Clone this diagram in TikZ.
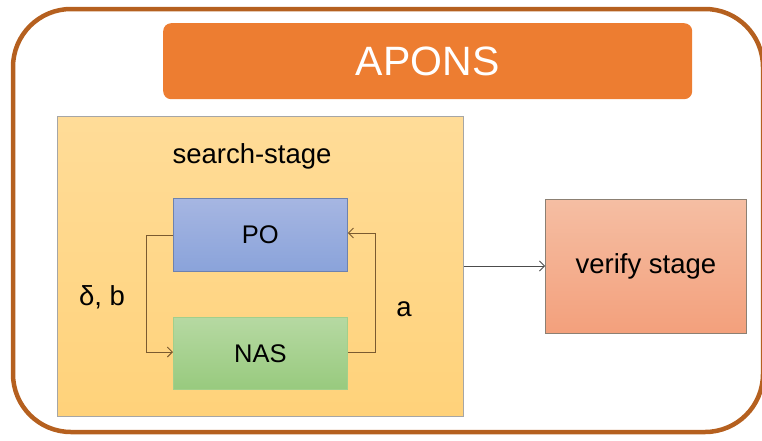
\documentclass[tikz,border=0pt]{standalone}
\usepackage{fontspec}
\setmainfont{Liberation Sans}
\usetikzlibrary{arrows.meta}
\definecolor{frame}{HTML}{B5601F}
\definecolor{titlebg}{HTML}{ED7D31}
\definecolor{searchtop}{HTML}{FFDC98}
\definecolor{searchbot}{HTML}{FFD27A}
\definecolor{potop}{HTML}{A6B6E2}
\definecolor{pobot}{HTML}{8AA3DA}
\definecolor{nastop}{HTML}{B6D9A2}
\definecolor{nasbot}{HTML}{98CA7E}
\definecolor{vertop}{HTML}{F5BEA3}
\definecolor{verbot}{HTML}{F3A07C}
\definecolor{link}{HTML}{7A5A30}
\tikzset{
  box/.style={draw=#1, line width=0.8pt, inner sep=0pt, anchor=north west},
  lbl/.style={font=\fontsize{25.5}{28}\selectfont, text=black},
  biglbl/.style={font=\fontsize{27.5}{30}\selectfont, text=black},
  loop/.style={draw=link, line width=0.9pt, -{Straight Barb[length=5pt,width=10pt]}},
}
\begin{document}
\begin{tikzpicture}[x=1pt,y=-1pt]
  \useasboundingbox (0,0) rectangle (762,440);
  % outer frame
  \draw[frame, line width=4.5pt, rounded corners=58pt] (13,9) rectangle (763,432);
  % title bar
  \node[fill=titlebg, rounded corners=8pt, anchor=north west, minimum width=529pt, minimum height=76pt, inner sep=0pt,
        text=white, font=\fontsize{41}{44}\selectfont] (title) at (163,23) {APONS};
  % search stage
  \node[box=gray!70, top color=searchtop, bottom color=searchbot, minimum width=406pt, minimum height=300pt] (search) at (57,116) {};
  \node[biglbl] (searchlbl) at (252,156) {search-stage};
  % PO and NAS
  \node[box=pobot!80!black, top color=potop, bottom color=pobot, minimum width=174pt, minimum height=73pt, lbl] (po) at (173,198) {PO};
  \node[box=nasbot!90!white, top color=nastop, bottom color=nasbot, minimum width=174pt, minimum height=72pt, lbl] (nas) at (173,317) {NAS};
  % verify stage
  \node[box=gray!80!brown, top color=vertop, bottom color=verbot, minimum width=201pt, minimum height=134pt, biglbl] (verify) at (545,199) {verify stage};
  % loop connectors
  \draw[loop] ([yshift=-1pt]po.west) -| (146,352) -- (nas.west |- 0,352);
  \draw[loop] ([yshift=1pt]nas.east) -| (375,233) -- (po.east |- 0,233);
  \node[biglbl] (dlbl) at (102,297) {δ, b};
  \node[biglbl] (albl) at (404,309) {a};
  % search -> verify
  \draw[draw=gray!60!black, line width=0.8pt, -{Straight Barb[length=5pt,width=10pt]}] (search.east |- 0,266) -- (verify.west |- 0,266);
\end{tikzpicture}
\end{document}
